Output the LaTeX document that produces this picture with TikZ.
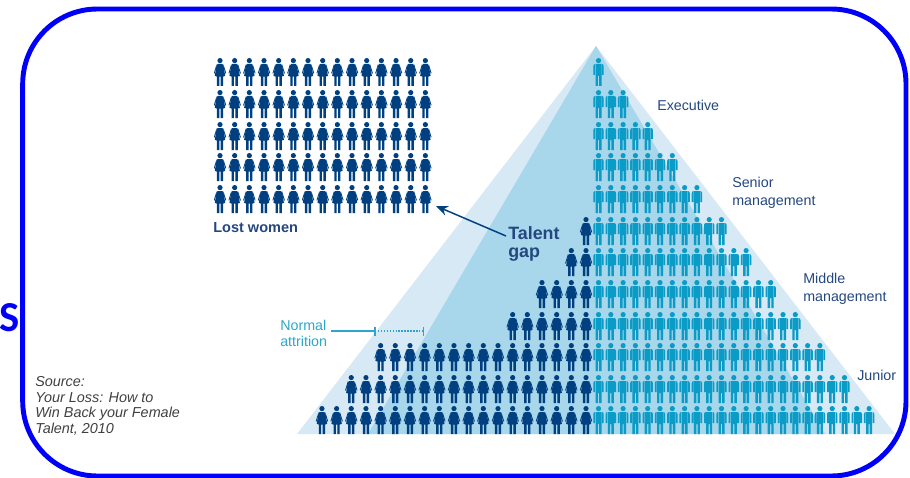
\documentclass[tikz,border=0pt]{standalone}
\usepackage{fontspec}
\setmainfont{Liberation Sans}
\newfontfamily\sfont{Carlito}
\usetikzlibrary{arrows.meta}
\definecolor{framecol}{HTML}{0000FA}
\definecolor{navycol}{HTML}{004080}
\definecolor{tealcol}{HTML}{0A9BC6}
\definecolor{lightcol}{HTML}{D7E9F5}
\definecolor{midcol}{HTML}{A8D6EB}
\definecolor{labelcol}{HTML}{24477F}
\definecolor{attrcol}{HTML}{2CA6CC}
\tikzset{
  man/.pic={
    \fill[tealcol] (0,2.6) circle (2.6);
    % torso and legs
    \fill[tealcol] (-3,6) -- (3,6) -- (3,18) -- (3,28) -- (0.6,28) -- (0.6,18) -- (-0.6,18) -- (-0.6,28) -- (-3,28) -- cycle;
    % arms
    \fill[tealcol] (3.4,6) to[out=0,in=90] (5.2,8.2) -- (5.2,17) -- (3.4,17) -- cycle;
    \fill[tealcol] (-3.4,6) to[out=180,in=90] (-5.2,8.2) -- (-5.2,17) -- (-3.4,17) -- cycle;
  },
  woman/.pic={
    \fill[navycol] (0,2.6) circle (2.6);
    \fill[navycol] (-2.4,6) -- (2.4,6) -- (3.6,8) -- (5.2,17.8) -- (3.1,18.6) -- (3.1,28)
      -- (0.7,28) -- (0.7,18.6) -- (-0.7,18.6) -- (-0.7,28) -- (-3.1,28) -- (-3.1,18.6) -- (-5.2,17.8)
      -- (-3.6,8) -- cycle;
    \fill[navycol] (3.4,6.2) -- (6.2,15.2) -- (5.4,15.6) -- (3.4,9) -- cycle;
    \fill[navycol] (-3.4,6.2) -- (-6.2,15.2) -- (-5.4,15.6) -- (-3.4,9) -- cycle;
  },
  lbl/.style={font=\fontsize{10.7}{12.6}\selectfont,text=labelcol,align=left,inner sep=0pt},
}
\begin{document}
\begin{tikzpicture}[x=0.75pt,y=-0.75pt]
  \useasboundingbox (0,0) rectangle (910,478);
  % frame
  \draw[framecol,line width=3.7pt,rounded corners=56pt] (22.7,9) rectangle (906,476);
  \node[font=\sfont\bfseries\fontsize{32}{32}\selectfont,text=framecol,inner sep=0pt] (sletter) at (10,318) {S};
  % pyramid
  \fill[lightcol] (596,46) -- (895,434) -- (297,434) -- cycle;
  \fill[midcol] (596,46) -- (825,434) -- (368,434) -- cycle;
  % men, row by row
  \foreach \row/\rowy in {1/58,2/90,3/122,4/153,5/185,6/217,7/248,8/280,9/312,10/343,11/375,12/406}{
    \pgfmathtruncatemacro{\last}{2*\row-2}
    \foreach \i in {0,...,\last}
      \pic at ({598.5+12.3*\i},\rowy) {man};
  }
  % women in the pyramid
  \foreach \first/\rowy in {13/217,12/248,10/280,8/312,-1/343,-3/375,-5/406}{
    \pgfmathtruncatemacro{\cnt}{14-\first}
    \foreach \i in {1,...,\cnt}
      \pic at ({586-14.67*(\i-1)},\rowy) {woman};
  }
  % lost women
  \foreach \rowy in {58,90,122,153,185}
    \foreach \i in {0,...,14}
      \pic at ({220+14.67*\i},\rowy) {woman};
  \node[lbl,font=\bfseries\fontsize{10.9}{12.6}\selectfont,anchor=west] (lost) at (213,227.5) {Lost women};
  % labels
  \node[lbl,anchor=west] (exec) at (657,105.5) {Executive};
  \node[lbl,anchor=west] (senior) at (732,193) {Senior\\[0.8pt]management};
  \node[lbl,anchor=west] (middle) at (803,289) {Middle\\[0.8pt]management};
  \node[lbl,anchor=west] (junior) at (857,375.5) {Junior};
  \node[lbl,font=\bfseries\fontsize{13.4}{13.4}\selectfont,anchor=west] (gap) at (508,244) {Talent\\gap};
  % arrow to the lost women
  \coordinate (gaptip) at (436,206);
  \coordinate (gapfoot) at (506,236);
  \draw[-{Stealth[length=9pt,width=7.5pt]},line width=1.1pt,navycol] (gapfoot) -- (gaptip);
  % normal attrition
  \node[lbl,text=attrcol,anchor=west] (attr) at (280,333.5) {Normal\\[-0.4pt]attrition};
  \coordinate (barleft) at (375,331);
  \coordinate (barright) at (423.5,331);
  \draw[attrcol,line width=1pt] (331,331) -- (barleft);
  \draw[attrcol,line width=1pt] (375,326.5) -- (375,335.5);
  \draw[attrcol,line width=1pt] (423.5,326.5) -- (423.5,335.5);
  \draw[attrcol,line width=1pt,dash pattern=on 1.1pt off 1.1pt] (barleft) -- (barright);
  % source
  \node[lbl,text=black!75,font=\itshape\fontsize{10.8}{11.8}\selectfont,anchor=north west] (source) at (35,376)
    {Source:\\Your Loss: How to\\Win Back your Female\\Talent, 2010};
\end{tikzpicture}
\end{document}
